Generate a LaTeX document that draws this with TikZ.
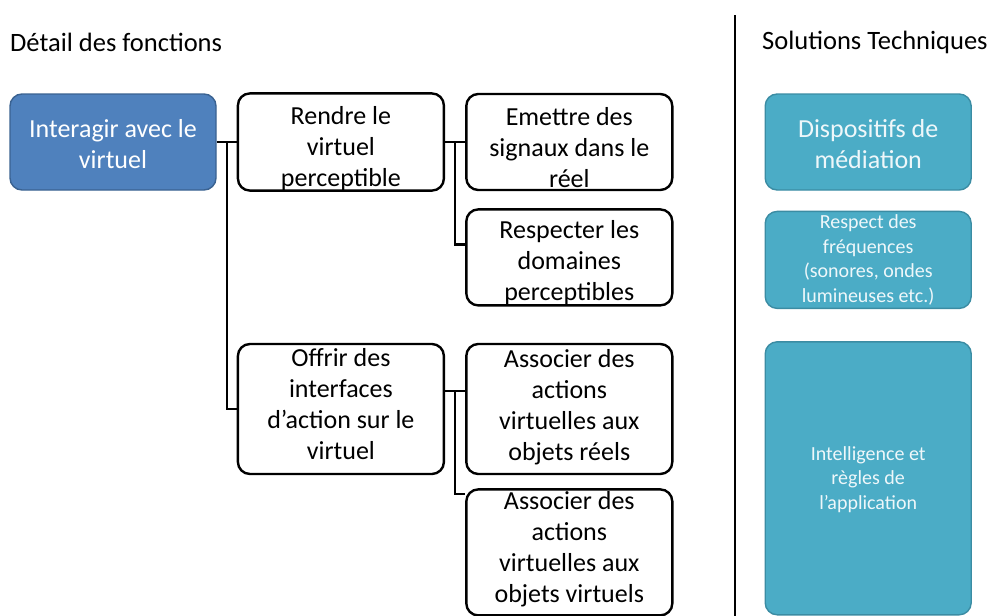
\documentclass[tikz,border=0pt]{standalone}
\usepackage{fontspec}
\setmainfont{Carlito}
\usetikzlibrary{positioning,calc}
\definecolor{fctblue}{HTML}{4F81BD}
\definecolor{fctblueline}{HTML}{3A6291}
\definecolor{soltech}{HTML}{4BACC6}
\definecolor{soltechline}{HTML}{3B8CA3}
\definecolor{soltext}{HTML}{EEF7FA}

\begin{document}
\begin{tikzpicture}[
  x=1pt, y=-1pt,
  node distance=17pt and 20pt,
  box/.style={draw, rounded corners=12pt, text width=196pt, inner xsep=5pt, inner ysep=0pt, align=flush center, font=\fontsize{26}{31}\selectfont},
  lower/.style={execute at begin node={\rule{0pt}{#1}}},
  raise/.style={execute at end node={\rule[-#1]{0pt}{#1}}},
  fct/.style={box, line width=2.4pt, fill=white, minimum height=96pt},
  sol/.style={box, draw=soltechline, fill=soltech, line width=1.4pt, text=soltext, minimum height=96pt},
  conn/.style={draw, line width=2.4pt},
  heading/.style={anchor=west, inner sep=0pt, font=\fontsize{26.5}{30}\selectfont},
]
  \useasboundingbox (0,0) rectangle (994,616);

  % colonne des fonctions
  \node[box, draw=fctblueline, fill=fctblue, line width=1.4pt, text=white, minimum height=96pt, lower=23pt] (interagir) at (113,142) {Interagir avec le\\virtuel};
  \node[fct, lower=31pt, right=20pt of interagir] (rendre) {Rendre le\\virtuel\\perceptible};
  \node[fct, lower=29pt, right=of rendre] (emettre) {Emettre des\\signaux dans le\\réel};
  \node[fct, lower=29pt, below=of emettre] (respecter) {Respecter les\\domaines\\perceptibles};
  \node[fct, minimum height=130pt, raise=10pt, below=151pt of rendre] (offrir) {Offrir des\\interfaces\\d’action sur le\\virtuel};
  \node[fct, minimum height=130pt, raise=9pt, right=of offrir] (objreels) {Associer des\\actions\\virtuelles aux\\objets réels};
  \node[fct, minimum height=126pt, raise=10pt, below=13pt of objreels] (objvirt) {Associer des\\actions\\virtuelles aux\\objets virtuels};

  % colonne des solutions
  \node[sol, lower=23pt, right=91pt of emettre] (dispositifs) {Dispositifs de\\médiation};
  \node[sol, font=\fontsize{20}{24.5}\selectfont, minimum height=97pt, lower=13pt, below=20pt of dispositifs] (frequences) {Respect des\\fréquences\\(sonores, ondes\\lumineuses etc.)};
  \node[sol, font=\fontsize{20}{24.5}\selectfont, minimum height=273pt, lower=16pt, below=32pt of frequences] (regles) {Intelligence et\\règles de\\l’application};

  \node[heading] (hfonctions) at (10,42) {Détail des fonctions};
  \node[heading] (hsolutions) at (762,42) {Solutions Techniques};
  \draw[line width=2pt] (735,15) -- (735,616);

  % liaisons
  \coordinate (j1) at ($(interagir.east)!0.5!(rendre.west)$);
  \coordinate (j2) at ($(rendre.east)!0.5!(emettre.west)$);
  \coordinate (j3) at ($([yshift=18pt]offrir.east)!0.5!([yshift=18pt]objreels.west)$);
  \draw[conn] (interagir.east) -- (rendre.west);
  \draw[conn] (j1) |- (offrir.west);
  \draw[conn] (rendre.east) -- (emettre.west);
  \draw[conn] (j2) |- ([yshift=13pt]respecter.west);
  \draw[conn] ([yshift=18pt]offrir.east) -- ([yshift=18pt]objreels.west);
  \draw[conn] (j3) |- ([yshift=-6pt]objvirt.north west);
\end{tikzpicture}
\end{document}
